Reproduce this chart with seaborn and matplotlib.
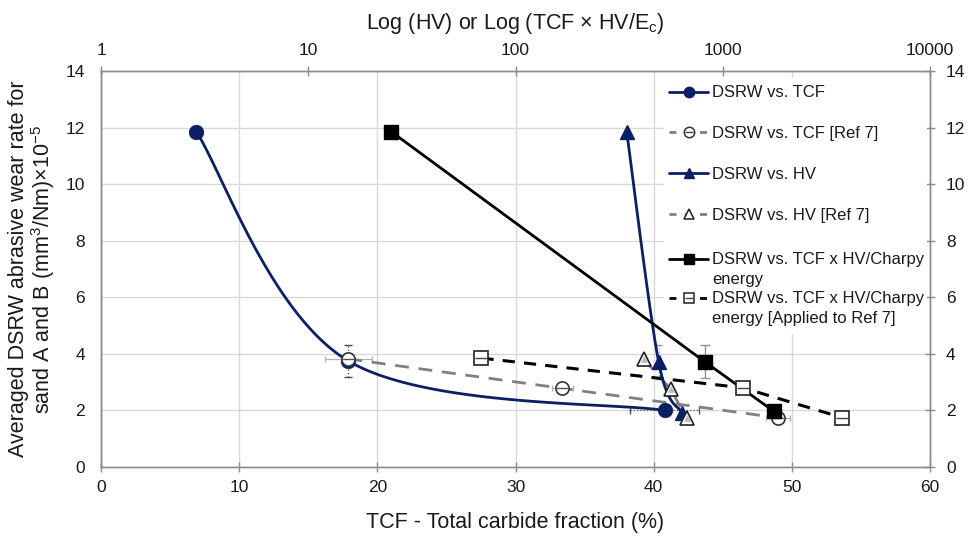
import numpy as np
import pandas as pd
import matplotlib
matplotlib.use("Agg")
import matplotlib.pyplot as plt
import seaborn as sns
from matplotlib.lines import Line2D
from matplotlib.patches import Rectangle
from matplotlib.legend_handler import HandlerTuple
from matplotlib.ticker import FixedLocator, NullLocator

# ---------------- data ----------------
# bottom axis: TCF (%)
tcf_x = [6.9, 17.9, 40.8]
tcf_y = [11.85, 3.75, 2.0]
tcf_xerr = [0.4, 0.0, 2.5]
tcf_yerr = [0.0, 0.58, 0.0]

ref7_tcf_x = [17.9, 33.4, 49.0]
ref7_tcf_y = [3.82, 2.78, 1.74]
ref7_tcf_xerr = [1.7, 0.75, 0.9]

# top axis: HV or TCF x HV/Ec (log)
hv_x = [344, 491, 634]
hv_y = [11.85, 3.7, 1.92]
hv_yerr = [0.0, 0.6, 0.0]

ref7_hv_x = [415, 561, 670]
ref7_hv_y = [3.82, 2.75, 1.72]

ctcf_x = [25.2, 819, 1763]
ctcf_y = [11.85, 3.72, 1.97]
ctcf_yerr = [0.0, 0.58, 0.0]

ref7_ctcf_x = [68.5, 1250, 3757]
ref7_ctcf_y = [3.85, 2.8, 1.75]

y_ticks = [0, 2, 4, 6, 8, 10, 12, 14]
x_ticks = [0, 10, 20, 30, 40, 50, 60]
top_ticks = [1, 10, 100, 1000, 10000]
top_labels = ["1", "10", "100", "1000", "10000"]

labels_a = ["DSRW vs. TCF", "DSRW vs. TCF [Ref 7]", "DSRW vs. HV", "DSRW vs. HV [Ref 7]"]
labels_b = ["DSRW vs. TCF x HV/Charpy", "energy",
            "DSRW vs. TCF x HV/Charpy", "energy [Applied to Ref 7]"]

# ---------------- style ----------------
sns.set_theme(style="white")
plt.rcParams["font.family"] = ["Liberation Sans", "DejaVu Sans"]
plt.rcParams["mathtext.fontset"] = "custom"
plt.rcParams["mathtext.rm"] = "Liberation Sans"
plt.rcParams["mathtext.it"] = "Liberation Sans:italic"

NAVY = "#0b1f66"
GREY = "#808080"
SPINE = "#8c8c8c"
GRID = "#d9d9d9"

W, H = 971, 536
fig = plt.figure(figsize=(W / 100, H / 100), dpi=100)
L, R, B, T = 101, 930, 467, 71
ax = fig.add_axes([L / W, 1 - B / H, (R - L) / W, (B - T) / H])
ax.set_xlim(0, 60)
ax.set_ylim(0, 14)
ax2 = ax.twiny()
ax2.set_xscale("log")
ax2.set_xlim(1, 10000)

px_w, px_h = R - L, B - T


def excel_smooth(xs, ys, fx, fxinv, n=60):
    """Excel-like smoothed line (Bezier, tension 1/6) computed in pixel space."""
    P = np.column_stack([np.array([fx(v) for v in xs]) * px_w,
                         np.array(ys) / 14.0 * px_h])
    out = []
    m = len(P)
    for i in range(m - 1):
        p0 = P[i - 1] if i > 0 else P[i]
        p1, p2 = P[i], P[i + 1]
        p3 = P[i + 2] if i + 2 < m else P[i + 1]
        c1 = p1 + (p2 - p0) / 6.0
        c2 = p2 - (p3 - p1) / 6.0
        t = np.linspace(0, 1, n)[:, None]
        seg = ((1 - t) ** 3) * p1 + 3 * ((1 - t) ** 2) * t * c1 + 3 * (1 - t) * t ** 2 * c2 + t ** 3 * p2
        out.append(seg if i == 0 else seg[1:])
    S = np.vstack(out)
    return [fxinv(u / px_w) for u in S[:, 0]], list(S[:, 1] / px_h * 14.0)


lin = (lambda v: v / 60.0, lambda u: u * 60.0)
logf = (lambda v: np.log10(v) / 4.0, lambda u: 10 ** (u * 4.0))

# ---------------- grid & axes styling ----------------
ax.set_xticks(x_ticks)
ax.set_yticks(y_ticks)
ax.grid(True, color=GRID, lw=1.0)
ax.set_axisbelow(True)
ax2.grid(False)
ax2.xaxis.set_major_locator(FixedLocator(top_ticks))
ax2.set_xticklabels(top_labels)
ax2.xaxis.set_minor_locator(NullLocator())

for a in (ax, ax2):
    for s in a.spines.values():
        s.set_color(SPINE)
        s.set_linewidth(1.0)
ax.spines["left"].set_color("#6e6e6e")

ax.tick_params(axis="both", which="both", direction="inout", length=7, width=1,
               color=SPINE, labelsize=12.5, labelcolor="#1a1a1a", pad=5)
ax.tick_params(axis="y", right=True, labelright=True, pad=8)
ax.tick_params(axis="x", pad=6)
ax2.tick_params(axis="x", direction="inout", length=7, width=1, color=SPINE,
                labelsize=12.5, labelcolor="#1a1a1a", pad=6)

ax.set_xlabel("TCF - Total carbide fraction (%)", fontsize=15.5, color="#1a1a1a", labelpad=12)
ax2.set_xlabel(r"Log (HV) or Log (TCF $\times$ HV/E$_\mathrm{c}$)", fontsize=15.5,
               color="#1a1a1a", labelpad=10)
ax.set_ylabel("Averaged DSRW abrasive wear rate for\nsand A and B (mm$^3$/Nm)×10$^{-5}$",
              fontsize=15.5, color="#1a1a1a", labelpad=6, linespacing=1.0)

# white legend area (covers gridlines, below the data)
ax.add_patch(Rectangle(((664 - L) / px_w, (B - 334) / px_h), (927 - 664) / px_w,
                       (334 - 78) / px_h, transform=ax.transAxes, facecolor="white",
                       edgecolor="none", zorder=1))

# ---------------- error bars ----------------
ax.errorbar(tcf_x, tcf_y, xerr=[e if i != 2 else 0 for i, e in enumerate(tcf_xerr)],
            fmt="none", ecolor=GREY, elinewidth=0.8, capsize=2.5, zorder=2)
eb = ax.errorbar([tcf_x[2]], [tcf_y[2]], xerr=[tcf_xerr[2]], fmt="none", ecolor="#555555",
                 elinewidth=0.9, capsize=3, zorder=2)
for c in eb[2]:
    c.set_linestyle(":")
eb = ax.errorbar([tcf_x[1]], [tcf_y[1]], yerr=[tcf_yerr[1]], fmt="none", ecolor="#444444",
                 elinewidth=0.9, capsize=3, zorder=2)
for c in eb[2]:
    c.set_linestyle(":")
ax.errorbar(ref7_tcf_x, ref7_tcf_y, xerr=ref7_tcf_xerr, fmt="none", ecolor="#b0b0b0",
            elinewidth=0.9, capsize=2.5, zorder=2)
eb = ax2.errorbar([hv_x[1]], [hv_y[1]], yerr=[hv_yerr[1]], fmt="none", ecolor="#999999",
                  elinewidth=0.9, capsize=2.5, zorder=2)
for c in eb[2]:
    c.set_linestyle(":")
ax2.errorbar([ctcf_x[1]], [ctcf_y[1]], yerr=[ctcf_yerr[1]], fmt="none", ecolor="#909090",
             elinewidth=1.0, capsize=3.5, zorder=2)

# ---------------- series ----------------
# 1 DSRW vs TCF (smoothed, navy filled circles)
sx, sy = excel_smooth(tcf_x, tcf_y, *lin)
sns.lineplot(x=sx, y=sy, ax=ax, sort=False, estimator=None, color=NAVY, lw=2.0, zorder=4)
sns.scatterplot(x=tcf_x, y=tcf_y, ax=ax, marker="o", s=110, color=NAVY,
                edgecolor=NAVY, linewidth=0.5, zorder=5)

# 2 DSRW vs TCF [Ref 7] (grey dashed, open circles with bar)
sns.lineplot(x=ref7_tcf_x, y=ref7_tcf_y, ax=ax, sort=False, estimator=None, color=GREY,
             lw=2.0, zorder=3).lines[-1].set_dashes([5, 3.5])
ax.plot(ref7_tcf_x, ref7_tcf_y, ls="none", marker="o", ms=9.5, mfc="white",
        mec="#333333", mew=1.2, zorder=5)
ax.plot(ref7_tcf_x, ref7_tcf_y, ls="none", marker="_", ms=8, mec="#555555", mew=1.0, zorder=6)

# 3 DSRW vs HV (smoothed navy, filled triangles)
sx, sy = excel_smooth(hv_x, hv_y, *logf)
sns.lineplot(x=sx, y=sy, ax=ax2, sort=False, estimator=None, color=NAVY, lw=2.0, zorder=4)
ax2.plot(hv_x, hv_y, ls="none", marker="^", ms=9.5, mfc=NAVY, mec=NAVY, zorder=5)

# 4 DSRW vs HV [Ref 7]
ln = ax2.plot(ref7_hv_x, ref7_hv_y, color=GREY, lw=2.0, zorder=3)[0]
ln.set_dashes([5, 3.5])
ax2.plot(ref7_hv_x, ref7_hv_y, ls="none", marker="^", ms=10, mfc="white",
         mec="#222222", mew=1.2, zorder=5)
ax2.plot(ref7_hv_x, ref7_hv_y, ls="none", marker="^", ms=4.5, mfc="#bbbbbb",
         mec="#bbbbbb", mew=0.5, zorder=6)

# 5 DSRW vs TCF x HV/Charpy energy
sns.lineplot(x=ctcf_x, y=ctcf_y, ax=ax2, sort=False, estimator=None, color="black",
             lw=2.0, zorder=4)
ax2.plot(ctcf_x, ctcf_y, ls="none", marker="s", ms=10, mfc="black", mec="black", zorder=5)

# 6 Applied to Ref 7
ln = ax2.plot(ref7_ctcf_x, ref7_ctcf_y, color="black", lw=2.2, zorder=3)[0]
ln.set_dashes([4, 3])
ax2.plot(ref7_ctcf_x, ref7_ctcf_y, ls="none", marker="s", ms=10, mfc="white",
         mec="#222222", mew=1.2, zorder=5)
ax2.plot(ref7_ctcf_x, ref7_ctcf_y, ls="none", marker="_", ms=8, mec="#444444", mew=1.0, zorder=6)

# ---------------- legend ----------------
LMS = 7.5
h1 = Line2D([], [], color=NAVY, lw=2, marker="o", ms=LMS, mfc=NAVY, mec=NAVY)
h2a = Line2D([], [], color=GREY, lw=2, ls=(0, (2.5, 3)), marker="o", ms=LMS, mfc="white",
             mec="#333333", mew=1.1)
h2b = Line2D([], [], ls="none", marker="_", ms=6, mec="#444444", mew=1.0)
h3 = Line2D([], [], color=NAVY, lw=2, marker="^", ms=LMS, mfc=NAVY, mec=NAVY)
h4 = Line2D([], [], color=GREY, lw=2, ls=(0, (2.5, 3)), marker="^", ms=LMS, mfc="white",
            mec="#222222", mew=1.1)
h5 = Line2D([], [], color="black", lw=2, marker="s", ms=LMS, mfc="black", mec="black")
h6a = Line2D([], [], color="black", lw=2, ls=(0, (2.5, 3)), marker="s", ms=LMS, mfc="white",
             mec="#222222", mew=1.1)
h6b = Line2D([], [], ls="none", marker="_", ms=6, mec="#444444", mew=1.0)
blank = Line2D([], [], ls="none", marker="none", alpha=0)

common = dict(handler_map={tuple: HandlerTuple(ndivide=1, pad=0)}, loc="upper left",
              fontsize=12, frameon=False, handlelength=2.3, handletextpad=0.25,
              borderpad=0.2, borderaxespad=0)
leg_a = ax2.legend([h1, (h2a, h2b), h3, h4], labels_a,
                   bbox_to_anchor=((666 - L) / px_w, (B - 82) / px_h),
                   labelspacing=1.55, **common)
leg_a.set_zorder(10)
ax2.add_artist(leg_a)
leg_b = ax2.legend([h5, blank, (h6a, h6b), blank], labels_b,
                   bbox_to_anchor=((666 - L) / px_w, (B - 249) / px_h),
                   labelspacing=0.27, **common)
leg_b.set_zorder(10)
for lg in (leg_a, leg_b):
    for t in lg.get_texts():
        t.set_color("#1a1a1a")

fig.savefig("out.png", dpi=100)
